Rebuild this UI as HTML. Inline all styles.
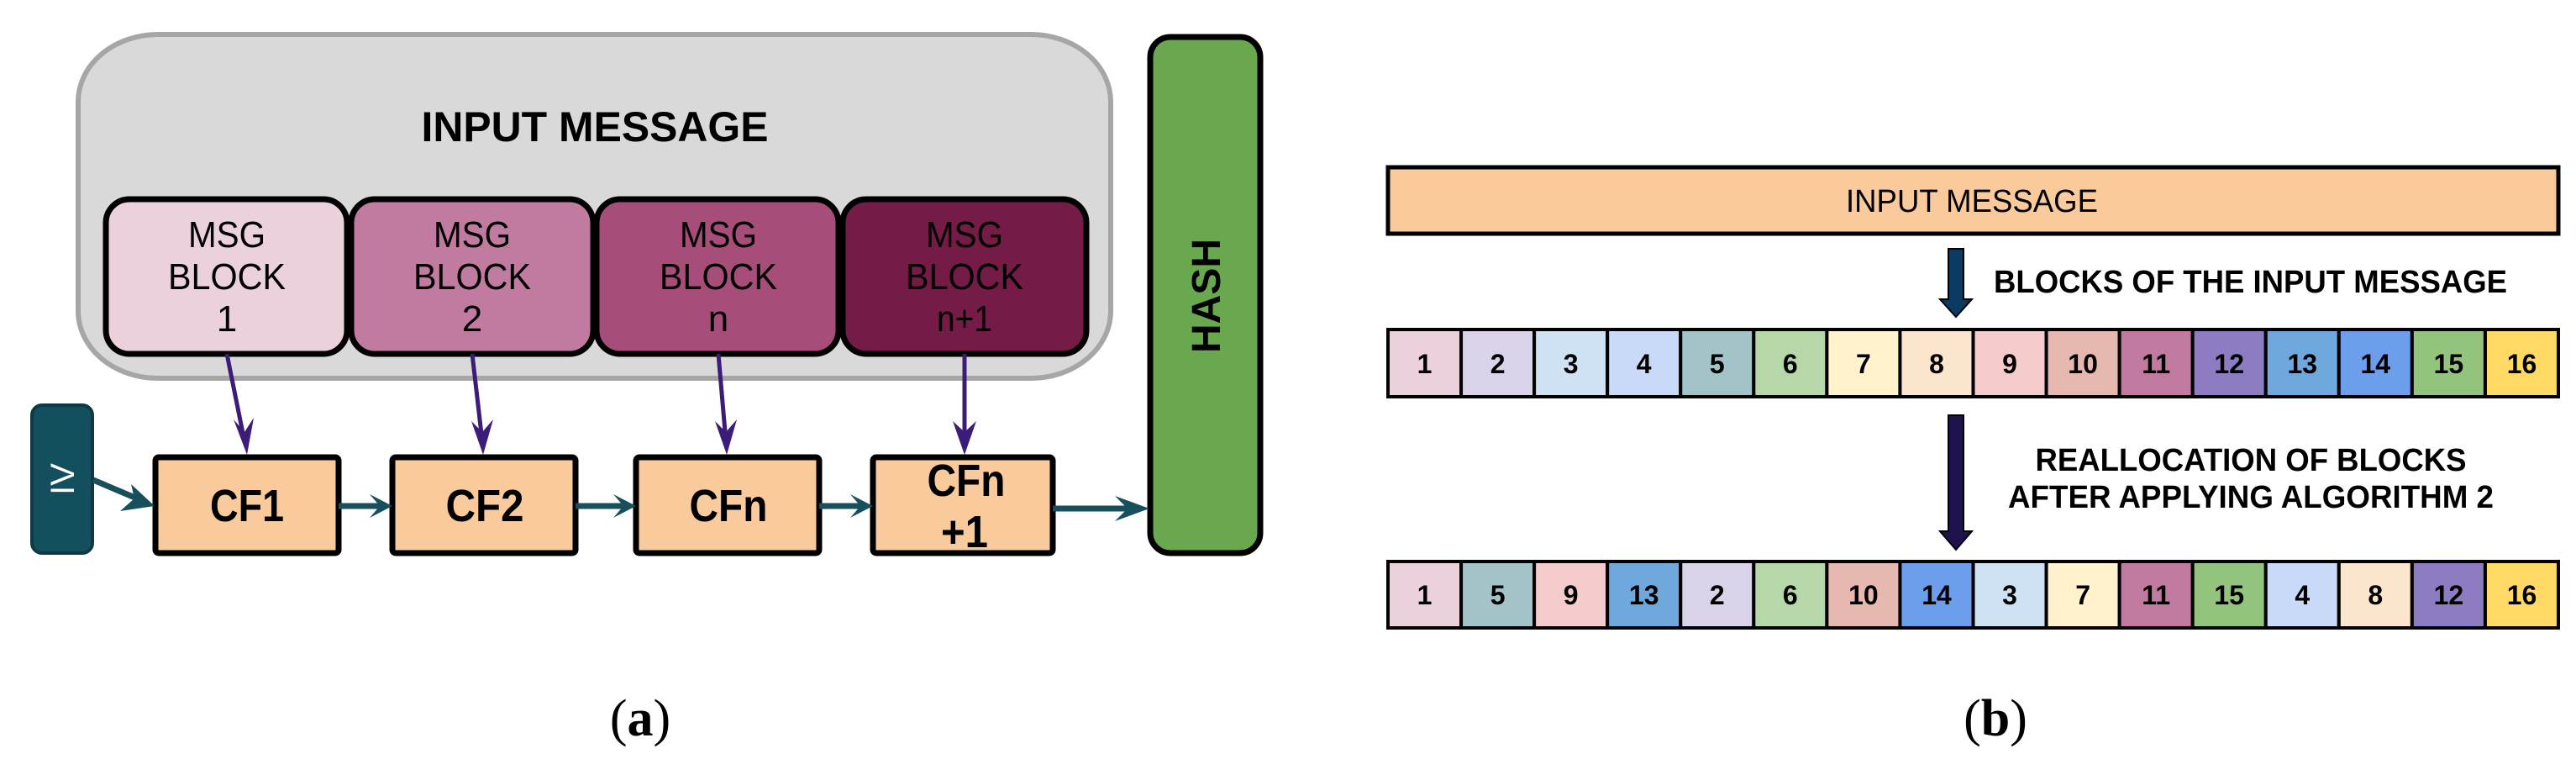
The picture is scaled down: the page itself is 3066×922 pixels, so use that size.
<!DOCTYPE html>
<html><head><meta charset="utf-8"><style>
html,body{margin:0;padding:0;background:#fff;}
svg{display:block;}
.n{font-family:"Liberation Sans Narrow","Liberation Sans",sans-serif;}
.s{font-family:"Liberation Sans",sans-serif;}
</style></head><body>
<svg width="3066" height="922" viewBox="0 0 3066 922" xmlns="http://www.w3.org/2000/svg">
<!-- Panel a -->
<rect x="93" y="41" width="1229" height="409" rx="95" ry="80" fill="#d9d9d9" stroke="#a6a6a6" stroke-width="6"/>
<text x="708" y="168" text-anchor="middle" class="n" font-weight="bold" font-size="50" textLength="413" lengthAdjust="spacingAndGlyphs">INPUT MESSAGE</text>
<g stroke="#000" stroke-width="7">
<rect x="126" y="237" width="287" height="184" rx="28" fill="#ead1dc"/>
<rect x="418" y="237" width="288" height="184" rx="28" fill="#c27ba0"/>
<rect x="710" y="237" width="288" height="184" rx="28" fill="#a64d79"/>
<rect x="1003" y="237" width="290" height="184" rx="28" fill="#741b47"/>
</g>
<g class="n" font-size="44" text-anchor="middle" fill="#000">
<text x="270" y="294" textLength="92" lengthAdjust="spacingAndGlyphs">MSG</text><text x="270" y="344" textLength="140" lengthAdjust="spacingAndGlyphs">BLOCK</text><text x="270" y="394">1</text>
<text x="562" y="294" textLength="92" lengthAdjust="spacingAndGlyphs">MSG</text><text x="562" y="344" textLength="140" lengthAdjust="spacingAndGlyphs">BLOCK</text><text x="562" y="394">2</text>
<text x="855" y="294" textLength="92" lengthAdjust="spacingAndGlyphs">MSG</text><text x="855" y="344" textLength="140" lengthAdjust="spacingAndGlyphs">BLOCK</text><text x="855" y="394">n</text>
<text x="1148" y="294" textLength="92" lengthAdjust="spacingAndGlyphs">MSG</text><text x="1148" y="344" textLength="140" lengthAdjust="spacingAndGlyphs">BLOCK</text><text x="1148" y="394" textLength="66" lengthAdjust="spacingAndGlyphs">n+1</text>
</g>
<g stroke="#3b1c78" stroke-width="5" fill="none">
<line x1="270" y1="421" x2="291" y2="525"/>
<line x1="562" y1="421" x2="574" y2="525"/>
<line x1="855" y1="421" x2="864" y2="525"/>
<line x1="1148" y1="421" x2="1148" y2="525"/>
</g>
<g fill="#3b1c78">
<path d="M294,541 L278,499 L291,514 L302,497 Z"/>
<path d="M575,541 L561,501 L574,514 L587,499 Z"/>
<path d="M865,541 L851,501 L864,514 L877,499 Z"/>
<path d="M1148,541 L1134,501 L1148,514 L1162,501 Z"/>
</g>
<rect x="38" y="482" width="72" height="176" rx="12" fill="#134f5c" stroke="#0d3a44" stroke-width="4"/>
<text x="0" y="0" transform="translate(88,570) rotate(-90)" text-anchor="middle" class="s" font-size="40" fill="#fff">IV</text>
<g stroke="#000" stroke-width="7" fill="#f9cb9c">
<rect x="185" y="544" width="218" height="114" rx="4"/>
<rect x="467" y="544" width="218" height="114" rx="4"/>
<rect x="757" y="544" width="218" height="114" rx="4"/>
<rect x="1039" y="544" width="214" height="114" rx="4"/>
</g>
<g class="n" font-weight="bold" font-size="54" text-anchor="middle">
<text x="294" y="620" textLength="88" lengthAdjust="spacingAndGlyphs">CF1</text>
<text x="577" y="620" textLength="93" lengthAdjust="spacingAndGlyphs">CF2</text>
<text x="867" y="620" textLength="93" lengthAdjust="spacingAndGlyphs">CFn</text>
<text x="1150" y="590" textLength="93" lengthAdjust="spacingAndGlyphs">CFn</text>
<text x="1148" y="651" textLength="56" lengthAdjust="spacingAndGlyphs">+1</text>
</g>
<rect x="1369" y="44" width="131" height="614" rx="24" fill="#6aa84f" stroke="#000" stroke-width="7"/>
<text x="0" y="0" transform="translate(1452,352) rotate(-90)" text-anchor="middle" class="s" font-weight="bold" font-size="48">HASH</text>
<g stroke="#17505c" stroke-width="7" fill="none">
<line x1="111" y1="571" x2="170" y2="596"/>
<line x1="403" y1="602" x2="452" y2="602"/>
<line x1="685" y1="602" x2="742" y2="602"/>
<line x1="975" y1="602" x2="1024" y2="602"/>
<line x1="1253" y1="605" x2="1350" y2="605"/>
</g>
<g fill="#17505c">
<path d="M184,602 L143,608 L160,593 L156,576 Z"/>
<path d="M467,602 L440,588 L452,602 L440,616 Z"/>
<path d="M757,602 L730,588 L742,602 L730,616 Z"/>
<path d="M1039,602 L1012,588 L1024,602 L1012,616 Z"/>
<path d="M1368,605 L1327,590 L1342,605 L1327,620 Z"/>
</g>
<text x="762" y="875" text-anchor="middle" font-family="'Liberation Serif',serif" font-size="62">(<tspan font-weight="bold">a</tspan>)</text>

<!-- Panel b -->
<rect x="1652" y="199" width="1393" height="79" fill="#f9cb9c" stroke="#000" stroke-width="5"/>
<text x="2347" y="252" text-anchor="middle" class="n" font-size="38" textLength="300" lengthAdjust="spacingAndGlyphs">INPUT MESSAGE</text>
<path d="M2319,296 H2337 V356 H2347 L2328,377 L2309,356 H2319 Z" fill="#0b3a62" stroke="#000" stroke-width="2"/>
<text x="2373" y="348" class="n" font-weight="bold" font-size="38" textLength="611" lengthAdjust="spacingAndGlyphs">BLOCKS OF THE INPUT MESSAGE</text>
<path d="M2319,494 H2337 V632 H2347 L2328,654 L2309,632 H2319 Z" fill="#20124d" stroke="#000" stroke-width="2"/>
<text x="2679" y="560" text-anchor="middle" class="n" font-weight="bold" font-size="38" textLength="513" lengthAdjust="spacingAndGlyphs">REALLOCATION OF BLOCKS</text>
<text x="2679" y="604" text-anchor="middle" class="n" font-weight="bold" font-size="38" textLength="578" lengthAdjust="spacingAndGlyphs">AFTER APPLYING ALGORITHM 2</text>
<g stroke="#000" stroke-width="4">
<rect x="1652" y="392" width="87.06" height="80" fill="#ead1dc"/>
<rect x="1739.06" y="392" width="87.06" height="80" fill="#d9d2e9"/>
<rect x="1826.12" y="392" width="87.06" height="80" fill="#cfe2f3"/>
<rect x="1913.18" y="392" width="87.06" height="80" fill="#c9daf8"/>
<rect x="2000.25" y="392" width="87.06" height="80" fill="#a2c4c9"/>
<rect x="2087.31" y="392" width="87.06" height="80" fill="#b6d7a8"/>
<rect x="2174.37" y="392" width="87.06" height="80" fill="#fff2cc"/>
<rect x="2261.43" y="392" width="87.06" height="80" fill="#fce5cd"/>
<rect x="2348.5" y="392" width="87.06" height="80" fill="#f4cccc"/>
<rect x="2435.56" y="392" width="87.06" height="80" fill="#e6b8af"/>
<rect x="2522.62" y="392" width="87.06" height="80" fill="#c27ba0"/>
<rect x="2609.68" y="392" width="87.06" height="80" fill="#8e7cc3"/>
<rect x="2696.75" y="392" width="87.06" height="80" fill="#6fa8dc"/>
<rect x="2783.81" y="392" width="87.06" height="80" fill="#6d9eeb"/>
<rect x="2870.87" y="392" width="87.06" height="80" fill="#93c47d"/>
<rect x="2957.93" y="392" width="87.06" height="80" fill="#ffd966"/>
</g>
<g class="n" font-weight="bold" font-size="32" text-anchor="middle">
<text x="1695.5" y="444">1</text><text x="1782.6" y="444">2</text><text x="1869.7" y="444">3</text><text x="1956.7" y="444">4</text>
<text x="2043.8" y="444">5</text><text x="2130.8" y="444">6</text><text x="2217.9" y="444">7</text><text x="2305" y="444">8</text>
<text x="2392" y="444">9</text><text x="2479.1" y="444">10</text><text x="2566.2" y="444">11</text><text x="2653.2" y="444">12</text>
<text x="2740.3" y="444">13</text><text x="2827.3" y="444">14</text><text x="2914.4" y="444">15</text><text x="3001.5" y="444">16</text>
</g>
<g stroke="#000" stroke-width="4">
<rect x="1652" y="668" width="87.06" height="79" fill="#ead1dc"/>
<rect x="1739.06" y="668" width="87.06" height="79" fill="#a2c4c9"/>
<rect x="1826.12" y="668" width="87.06" height="79" fill="#f4cccc"/>
<rect x="1913.18" y="668" width="87.06" height="79" fill="#6fa8dc"/>
<rect x="2000.25" y="668" width="87.06" height="79" fill="#d9d2e9"/>
<rect x="2087.31" y="668" width="87.06" height="79" fill="#b6d7a8"/>
<rect x="2174.37" y="668" width="87.06" height="79" fill="#e6b8af"/>
<rect x="2261.43" y="668" width="87.06" height="79" fill="#6d9eeb"/>
<rect x="2348.5" y="668" width="87.06" height="79" fill="#cfe2f3"/>
<rect x="2435.56" y="668" width="87.06" height="79" fill="#fff2cc"/>
<rect x="2522.62" y="668" width="87.06" height="79" fill="#c27ba0"/>
<rect x="2609.68" y="668" width="87.06" height="79" fill="#93c47d"/>
<rect x="2696.75" y="668" width="87.06" height="79" fill="#c9daf8"/>
<rect x="2783.81" y="668" width="87.06" height="79" fill="#fce5cd"/>
<rect x="2870.87" y="668" width="87.06" height="79" fill="#8e7cc3"/>
<rect x="2957.93" y="668" width="87.06" height="79" fill="#ffd966"/>
</g>
<g class="n" font-weight="bold" font-size="32" text-anchor="middle">
<text x="1695.5" y="719">1</text><text x="1782.6" y="719">5</text><text x="1869.7" y="719">9</text><text x="1956.7" y="719">13</text>
<text x="2043.8" y="719">2</text><text x="2130.8" y="719">6</text><text x="2217.9" y="719">10</text><text x="2305" y="719">14</text>
<text x="2392" y="719">3</text><text x="2479.1" y="719">7</text><text x="2566.2" y="719">11</text><text x="2653.2" y="719">15</text>
<text x="2740.3" y="719">4</text><text x="2827.3" y="719">8</text><text x="2914.4" y="719">12</text><text x="3001.5" y="719">16</text>
</g>
<text x="2375" y="875" text-anchor="middle" font-family="'Liberation Serif',serif" font-size="62">(<tspan font-weight="bold">b</tspan>)</text>
</svg>
</body></html>
